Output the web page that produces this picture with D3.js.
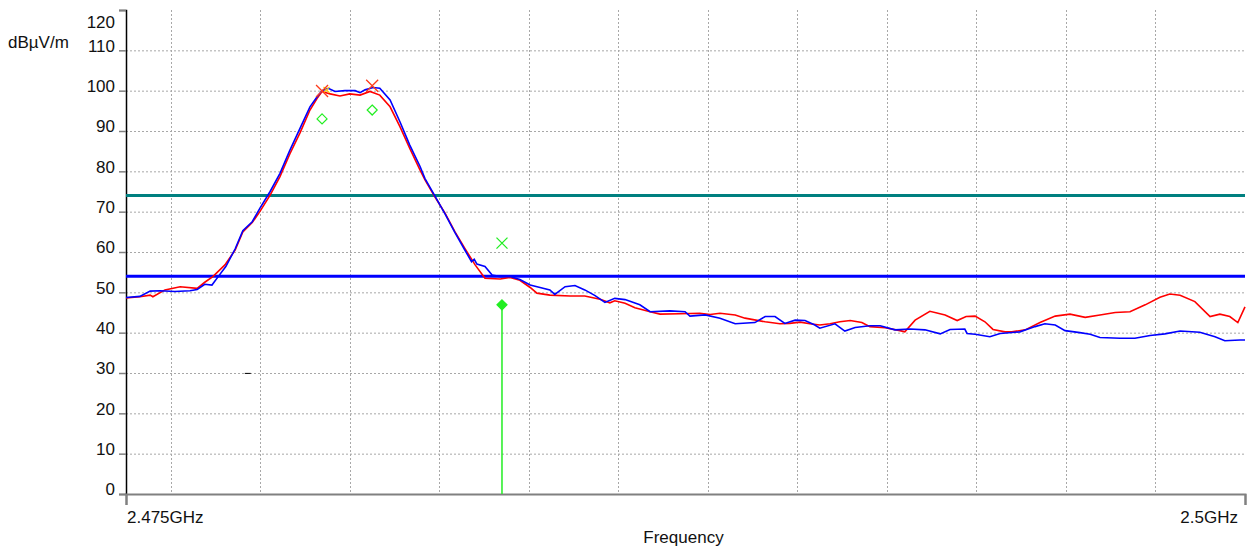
<!DOCTYPE html>
<html lang="en">
<head>
<meta charset="utf-8">
<title>Band edge scan</title>
<script src="https://d3js.org/d3.v7.min.js"></script>
<style>
body { margin: 0; background: #fff; }
text { font-family: Arial, "Liberation Sans", sans-serif; font-size: 17px; fill: #111; }
.grid line { stroke: #a8a8a8; stroke-width: 1; stroke-dasharray: 2,2; }
</style>
</head>
<body>
<svg width="1249" height="550"></svg>
<script>

// values (MHz, dBuV/m)
var redTrace = [
  [2475.00,48.6],[2475.31,48.9],[2475.54,49.3],[2475.60,48.9],[2475.87,50.6],[2476.21,51.4],
  [2476.59,51.0],[2476.76,52.5],[2476.94,53.9],[2477.21,56.8],[2477.44,60.5],[2477.61,65.0],
  [2477.82,67.3],[2477.99,70.0],[2478.22,74.1],[2478.44,78.7],[2478.66,84.3],[2478.89,89.6],
  [2479.11,95.2],[2479.27,98.1],[2479.38,99.8],[2479.56,99.2],[2479.78,98.7],[2480.00,99.2],
  [2480.23,98.9],[2480.45,99.8],[2480.67,98.9],[2480.90,96.0],[2481.12,91.1],[2481.34,85.7],
  [2481.57,80.3],[2481.68,77.9],[2481.90,73.7],[2482.13,69.6],[2482.35,65.0],[2482.57,60.9],
  [2482.80,56.8],[2483.02,53.5],[2483.36,53.3],[2483.58,53.7],[2483.80,53.0],[2484.03,51.2],
  [2484.18,49.8],[2484.47,49.3],[2484.92,49.1],[2485.25,49.1],[2485.59,48.3],[2485.81,47.4],
  [2485.92,47.9],[2486.15,47.3],[2486.37,46.2],[2486.71,45.2],[2486.93,44.6],[2487.38,44.7],
  [2487.82,44.8],[2488.05,44.5],[2488.27,44.8],[2488.61,44.4],[2488.83,43.6],[2489.28,42.7],
  [2489.61,42.2],[2489.83,42.3],[2490.06,42.6],[2490.28,42.2],[2490.50,41.9],[2490.73,42.2],
  [2490.95,42.7],[2491.18,43.0],[2491.44,42.5],[2491.62,41.5],[2491.96,41.2],[2492.29,40.5],
  [2492.40,40.2],[2492.63,43.1],[2492.96,45.3],[2493.30,44.4],[2493.57,43.0],[2493.77,44.0],
  [2493.97,44.1],[2494.19,42.7],[2494.37,40.8],[2494.64,40.2],[2494.79,40.2],[2495.09,40.7],
  [2495.42,42.5],[2495.76,44.1],[2496.09,44.6],[2496.43,43.8],[2496.76,44.4],[2497.10,45.0],
  [2497.43,45.2],[2497.77,46.9],[2498.10,48.8],[2498.32,49.6],[2498.55,49.3],[2498.88,47.7],
  [2499.22,44.0],[2499.44,44.6],[2499.66,44.0],[2499.84,42.5],[2500.00,46.4]
];

var blueTrace = [
  [2475.00,48.7],[2475.31,49.0],[2475.54,50.3],[2475.76,50.4],[2476.09,50.2],[2476.43,50.4],
  [2476.59,50.7],[2476.76,52.0],[2476.92,51.8],[2477.06,53.9],[2477.23,56.4],[2477.44,60.8],
  [2477.61,65.3],[2477.82,67.5],[2477.99,70.8],[2478.22,75.0],[2478.44,79.5],[2478.66,85.2],
  [2478.89,90.7],[2479.11,96.0],[2479.27,98.5],[2479.38,100.0],[2479.52,100.6],[2479.67,99.8],
  [2479.89,100.0],[2480.12,100.0],[2480.23,99.5],[2480.34,100.2],[2480.52,100.8],[2480.67,100.6],
  [2480.90,97.7],[2481.12,92.3],[2481.34,86.5],[2481.57,81.2],[2481.68,78.2],[2481.90,73.9],
  [2482.13,69.4],[2482.35,64.8],[2482.57,60.5],[2482.72,57.6],[2482.78,58.2],[2482.84,57.0],
  [2483.02,56.4],[2483.18,54.3],[2483.36,53.9],[2483.58,53.9],[2483.80,53.2],[2484.03,51.8],
  [2484.25,51.2],[2484.47,50.6],[2484.58,49.5],[2484.81,51.4],[2485.03,51.7],[2485.25,50.6],
  [2485.48,49.2],[2485.70,47.5],[2485.92,48.5],[2486.15,48.2],[2486.48,46.9],[2486.71,45.2],
  [2487.15,45.4],[2487.49,45.2],[2487.60,44.1],[2487.94,44.4],[2488.27,43.6],[2488.61,42.2],
  [2489.05,42.5],[2489.28,44.0],[2489.50,44.0],[2489.72,42.3],[2489.95,43.1],[2490.17,43.0],
  [2490.39,41.9],[2490.50,41.1],[2490.84,42.2],[2491.06,40.4],[2491.29,41.3],[2491.62,41.7],
  [2491.85,41.7],[2492.18,40.7],[2492.52,40.9],[2492.85,40.7],[2493.19,39.7],[2493.41,40.8],
  [2493.74,40.9],[2493.79,39.8],[2493.97,39.6],[2494.30,39.0],[2494.53,39.8],[2494.97,40.2],
  [2495.31,41.5],[2495.53,42.2],[2495.76,41.9],[2495.98,40.5],[2496.31,40.0],[2496.54,39.6],
  [2496.76,38.8],[2497.21,38.6],[2497.54,38.6],[2497.88,39.3],[2498.21,39.7],[2498.55,40.4],
  [2498.99,40.1],[2499.33,39.0],[2499.55,38.0],[2499.89,38.2],[2500.00,38.2]
];

var peakLimit = 74;
var avgLimit = 54;

// markers: [MHz, dBuV/m]
var peakMarks = [[2479.38,99.9],[2480.50,101.2]];
var avgMarks = [[2479.38,93.0],[2480.50,95.2]];
var edgePeak = [2483.40,62.2];
var edgeAvg = [2483.40,46.9];
var stray = [2477.72,29.9];

var yTicks = [0,10,20,30,40,50,60,70,80,90,100,110,120];
var xGrid = [2476,2478,2480,2482,2484,2486,2488,2490,2492,2494,2496,2498];
var xTicks = [2475,2500];
var xTickLabels = ['2.475GHz','2.5GHz'];

var svg = d3.select('svg');

var x = d3.scaleLinear().domain([2475,2500]).range([126,1245]);
var y = d3.scaleLinear().domain([0,120]).range([494,10]);

//////// GRID ////////
var grid = svg.append('g').attr('class','grid');
grid.selectAll('.h')
  .data(yTicks.filter(function(d){ return d>0 && d<120; }))
  .enter().append('line')
  .attr('x1',x(2475)).attr('x2',x(2500))
  .attr('y1',function(d){ return y(d)+0.5; })
  .attr('y2',function(d){ return y(d)+0.5; });
grid.selectAll('.v')
  .data(xGrid)
  .enter().append('line')
  .attr('x1',function(d){ return Math.round(x(d))+0.5; })
  .attr('x2',function(d){ return Math.round(x(d))+0.5; })
  .attr('y1',y(120)).attr('y2',y(0));

//////// AXES ////////
var yAxis = svg.append('g')
  .attr('transform','translate('+x(2475)+',0)')
  .call(d3.axisLeft(y).tickValues(yTicks).tickSize(7).tickPadding(4));
yAxis.select('.domain').attr('stroke','#000').attr('stroke-width',1.5);
yAxis.selectAll('.tick line').attr('stroke','#808080').attr('stroke-width',1.5);
yAxis.selectAll('.tick text')
  .attr('font-size',17).attr('fill','#111')
  .attr('font-family','Arial, "Liberation Sans", sans-serif')
  .attr('dy',function(d){ return d==120 ? '1.0em' : '0.05em'; });

var xAxis = svg.append('g')
  .attr('transform','translate(0,'+y(0)+')')
  .call(d3.axisBottom(x).tickValues(xTicks).tickSize(11).tickFormat(''));
xAxis.select('.domain').attr('stroke','#808080').attr('stroke-width',2);
xAxis.selectAll('.tick line').attr('stroke','#808080').attr('stroke-width',2);

svg.selectAll('.xlab')
  .data(xTicks)
  .enter().append('text')
  .attr('x',function(d,i){ return i==0 ? x(d)+1 : x(d)-7; })
  .attr('y',523)
  .attr('text-anchor',function(d,i){ return i==0 ? 'start' : 'end'; })
  .text(function(d,i){ return xTickLabels[i]; });

svg.append('text')
  .attr('x',(x(2475)+x(2500))/2-2).attr('y',543)
  .attr('text-anchor','middle')
  .text('Frequency');

svg.append('text')
  .attr('x',8).attr('y',48)
  .text('dBµV/m');

//////// LIMIT LINES ////////
svg.append('line')
  .attr('x1',x(2475)).attr('x2',x(2500))
  .attr('y1',y(peakLimit)).attr('y2',y(peakLimit))
  .attr('stroke','#008080').attr('stroke-width',3);
svg.append('line')
  .attr('x1',x(2475)).attr('x2',x(2500))
  .attr('y1',y(avgLimit)).attr('y2',y(avgLimit))
  .attr('stroke','#0000ff').attr('stroke-width',3);

//////// TRACES ////////
var line = d3.line()
  .x(function(d){ return x(d[0]); })
  .y(function(d){ return y(d[1]); });

svg.append('path').datum(redTrace)
  .attr('d',line).attr('fill','none')
  .attr('stroke','#ff0000').attr('stroke-width',1.6);
svg.append('path').datum(blueTrace)
  .attr('d',line).attr('fill','none')
  .attr('stroke','#0000ff').attr('stroke-width',1.6);

//////// MARKERS ////////
function cross(g, d, s, col){
  g.append('path')
    .attr('d','M'+(x(d[0])-s)+','+(y(d[1])-s)+'L'+(x(d[0])+s)+','+(y(d[1])+s)+
              'M'+(x(d[0])-s)+','+(y(d[1])+s)+'L'+(x(d[0])+s)+','+(y(d[1])-s))
    .attr('stroke',col).attr('stroke-width',1.3).attr('fill','none');
}
function diamond(g, d, s, col, filled){
  g.append('path')
    .attr('d','M'+x(d[0])+','+(y(d[1])-s)+'L'+(x(d[0])+s)+','+y(d[1])+
              'L'+x(d[0])+','+(y(d[1])+s)+'L'+(x(d[0])-s)+','+y(d[1])+'Z')
    .attr('stroke',col).attr('stroke-width',1.2)
    .attr('fill',filled ? col : 'none');
}

var mk = svg.append('g');
cross(mk,[peakMarks[0][0]+0.1,peakMarks[0][1]+0.3],3,'#ffcc00');
peakMarks.forEach(function(d){ cross(mk,d,6,'#ff3b1a'); });
avgMarks.forEach(function(d){ diamond(mk,d,5,'#22ee22',false); });
cross(mk,edgePeak,5.5,'#22ee22');

mk.append('line')
  .attr('x1',x(edgeAvg[0])).attr('x2',x(edgeAvg[0]))
  .attr('y1',y(0)).attr('y2',y(edgeAvg[1]))
  .attr('stroke','#22ee22').attr('stroke-width',1.5);
diamond(mk,edgeAvg,5,'#22ee22',true);

mk.append('line')
  .attr('x1',x(stray[0])-3).attr('x2',x(stray[0])+3)
  .attr('y1',y(stray[1])).attr('y2',y(stray[1]))
  .attr('stroke','#000').attr('stroke-width',1);

</script>
</body>
</html>
